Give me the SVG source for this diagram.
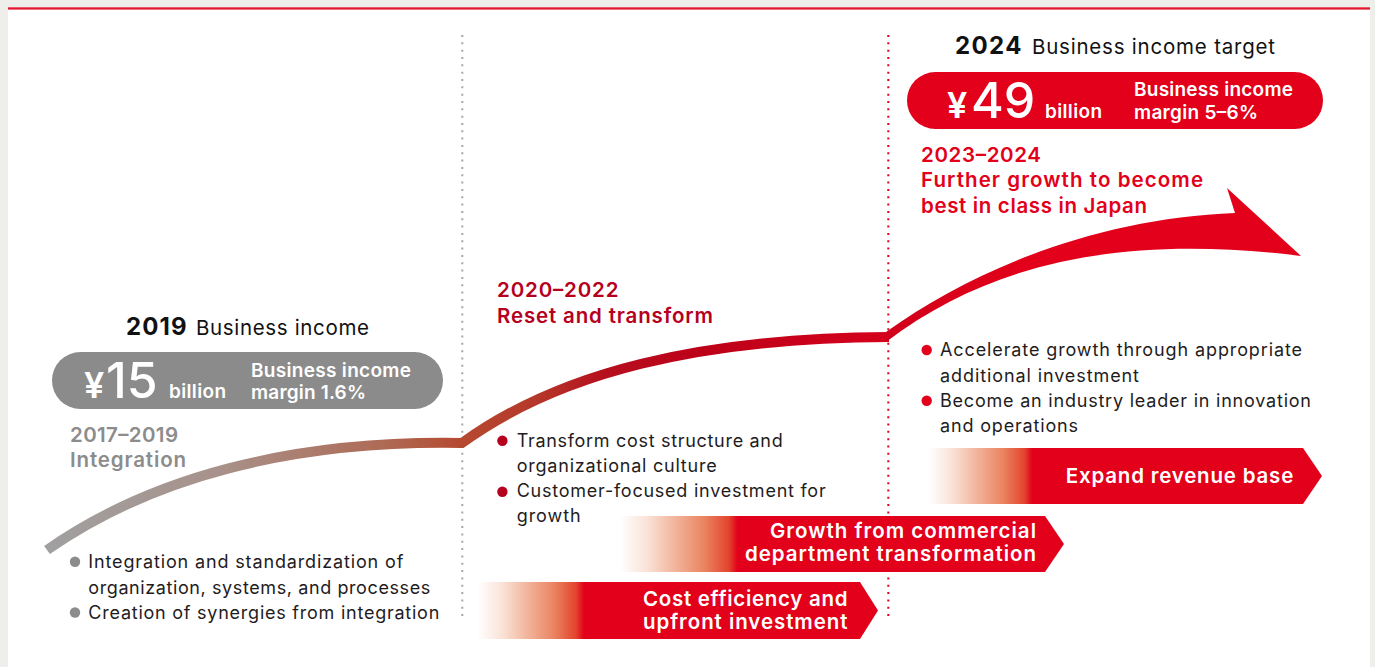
<svg xmlns="http://www.w3.org/2000/svg" width="1375" height="667" viewBox="0 0 1375 667">
  <style>
    text { font-family: Inter, "Noto Sans", "Liberation Sans", sans-serif; }
    .body { font-size: 18px; fill: #1f1c1d; }
    .yr { font-size: 24px; font-weight: 700; fill: #111111; }
    .head { font-size: 20.5px; fill: #111111; }
    .phase { font-size: 20.5px; font-weight: 600; }
    .pilltxt { font-size: 19px; font-weight: 600; fill: #ffffff; }
    .yen { font-size: 36px; font-weight: 600; fill: #ffffff; }
    .num { font-size: 50px; font-weight: 500; fill: #ffffff; }
    .bartxt { font-size: 20.5px; font-weight: 600; fill: #ffffff; }
    .dots-gray { stroke: #a6a6a6; stroke-width: 2; stroke-dasharray: 2 5.33; fill: none; }
    .dots-red { stroke: #e2001a; stroke-width: 2; stroke-dasharray: 2 5.33; fill: none; }
  </style>
  <defs>
    <linearGradient id="trackGrad" gradientUnits="userSpaceOnUse" x1="47" y1="0" x2="889" y2="0">
      <stop offset="0" stop-color="#a0a0a0"/>
      <stop offset="0.2" stop-color="#a8928b"/>
      <stop offset="0.4" stop-color="#ae6a55"/>
      <stop offset="0.49" stop-color="#b64a31"/>
      <stop offset="0.58" stop-color="#b5382a"/>
      <stop offset="0.66" stop-color="#b5101e"/>
      <stop offset="0.78" stop-color="#bd0019"/>
      <stop offset="1" stop-color="#d5001c"/>
    </linearGradient>
    <linearGradient id="arrowGrad" gradientUnits="userSpaceOnUse" x1="886" y1="0" x2="1020" y2="0">
      <stop offset="0" stop-color="#d1001b"/>
      <stop offset="1" stop-color="#e2001a"/>
    </linearGradient>
    <linearGradient id="barFade" x1="0" y1="0" x2="1" y2="0">
      <stop offset="0" stop-color="#ffffff"/>
      <stop offset="0.06" stop-color="#fae3d8"/>
      <stop offset="0.12" stop-color="#f2b79f"/>
      <stop offset="0.19" stop-color="#ea8461"/>
      <stop offset="0.245" stop-color="#e3442e"/>
      <stop offset="0.265" stop-color="#e2001a"/>
      <stop offset="1" stop-color="#e2001a"/>
    </linearGradient>
  </defs>

  <!-- page and panel -->
  <rect x="0" y="0" width="1375" height="667" fill="#eeeeea"/>
  <rect x="8" y="7.5" width="1362" height="660" fill="#ffffff"/>
  <rect x="8" y="7.3" width="1362" height="2.3" fill="#e3172f"/>

  <!-- period dividers -->
  <g id="dividers">
    <line class="dots-gray" x1="462.3" y1="35" x2="462.3" y2="620"/>
    <line class="dots-red" x1="888.3" y1="35" x2="888.3" y2="620"/>
  </g>

  <!-- growth track -->
  <g id="connectors">
    <path d="M47,550 C150,478 290,440 462,443 C560,372 700,338 889,337" fill="none" stroke="url(#trackGrad)" stroke-width="10" stroke-linejoin="miter" stroke-miterlimit="10"/>
    <path d="M886,332 C975,268 1100,218 1235,213 L1227,188 L1301,256 C1140,236 1000,255 886,342 Z" fill="url(#arrowGrad)"/>
  </g>

  <!-- 2017-2019 -->
  <g id="head-2019">
    <text class="yr" x="126" y="335" textLength="60.5">2019</text>
    <text class="head" x="196" y="335" textLength="173">Business income</text>
  </g>
  <g id="pill-2019">
    <rect x="52" y="352" width="391" height="57" rx="28.5" fill="#8b8b8b"/>
    <text class="yen" x="84" y="397.7">¥</text>
    <text class="num" x="106" y="397.7">15</text>
    <text class="pilltxt" x="169" y="397.7" textLength="57">billion</text>
    <text class="pilltxt" x="251" y="376.7" textLength="160">Business income</text>
    <text class="pilltxt" x="251" y="399.3" textLength="115">margin 1.6%</text>
  </g>
  <g id="phase-2017" class="phase" fill="#8c8c8c">
    <text x="70" y="441.7" textLength="108">2017–2019</text>
    <text x="70" y="466.7" textLength="116">Integration</text>
  </g>
  <g id="bullets-2017">
    <circle cx="75" cy="561.8" r="5.2" fill="#8c8c8c"/>
    <circle cx="75" cy="612.5" r="5.2" fill="#8c8c8c"/>
    <text class="body" x="88.3" y="568.3" textLength="315">Integration and standardization of</text>
    <text class="body" x="88.3" y="593.5" textLength="342">organization, systems, and processes</text>
    <text class="body" x="88.3" y="619" textLength="351">Creation of synergies from integration</text>
  </g>

  <!-- 2020-2022 -->
  <g id="phase-2020" class="phase" fill="#b5001e">
    <text x="497" y="297.3" textLength="121.5">2020–2022</text>
    <text x="497" y="323.3" textLength="216">Reset and transform</text>
  </g>
  <g id="bullets-2020">
    <circle cx="502.4" cy="440.7" r="5.2" fill="#b5001e"/>
    <circle cx="502.4" cy="491.7" r="5.2" fill="#b5001e"/>
    <text class="body" x="516.7" y="446.7" textLength="266">Transform cost structure and</text>
    <text class="body" x="516.7" y="472.3" textLength="200">organizational culture</text>
    <text class="body" x="516.7" y="497.3" textLength="309">Customer-focused investment for</text>
    <text class="body" x="516.7" y="522.3" textLength="64">growth</text>
  </g>

  <!-- 2023-2024 -->
  <g id="head-2024">
    <text class="yr" x="955" y="54.3" textLength="66.5">2024</text>
    <text class="head" x="1032" y="54.3" textLength="243">Business income target</text>
  </g>
  <g id="pill-2024">
    <rect x="907" y="72" width="416" height="57" rx="28.5" fill="#e2001a"/>
    <text class="yen" x="947" y="117.7">¥</text>
    <text class="num" x="971" y="117.7">49</text>
    <text class="pilltxt" x="1045" y="117.7" textLength="57">billion</text>
    <text class="pilltxt" x="1134" y="96" textLength="159">Business income</text>
    <text class="pilltxt" x="1134" y="119" textLength="124">margin 5–6%</text>
  </g>
  <g id="phase-2023" class="phase" fill="#e2001a">
    <text x="921" y="161.7" textLength="120">2023–2024</text>
    <text x="921" y="186.7" textLength="282">Further growth to become</text>
    <text x="921" y="212.7" textLength="226">best in class in Japan</text>
  </g>
  <g id="bullets-2023">
    <circle cx="926.7" cy="350" r="5.2" fill="#e2001a"/>
    <circle cx="926.7" cy="400.7" r="5.2" fill="#e2001a"/>
    <text class="body" x="940" y="356" textLength="362">Accelerate growth through appropriate</text>
    <text class="body" x="940" y="381.7" textLength="199">additional investment</text>
    <text class="body" x="940" y="406.7" textLength="371">Become an industry leader in innovation</text>
    <text class="body" x="940" y="431.7" textLength="138">and operations</text>
  </g>

  <!-- initiative bars -->
  <g id="bar-expand">
    <path d="M928,448 H1303 L1322,476 L1303,504 H928 Z" fill="url(#barFade)"/>
    <text class="bartxt" x="1065.7" y="482.7" textLength="227.6">Expand revenue base</text>
  </g>
  <g id="bar-growth">
    <path d="M620,516 H1045 L1064,544 L1045,572 H620 Z" fill="url(#barFade)"/>
    <text class="bartxt" x="770" y="538.3" textLength="266">Growth from commercial</text>
    <text class="bartxt" x="745" y="560.5" textLength="291">department transformation</text>
  </g>
  <g id="bar-cost">
    <path d="M478,582 H860 L878,610.5 L860,639 H478 Z" fill="url(#barFade)"/>
    <text class="bartxt" x="643" y="605.5" textLength="204.5">Cost efficiency and</text>
    <text class="bartxt" x="643" y="628.5" textLength="204.5">upfront investment</text>
  </g>
</svg>
